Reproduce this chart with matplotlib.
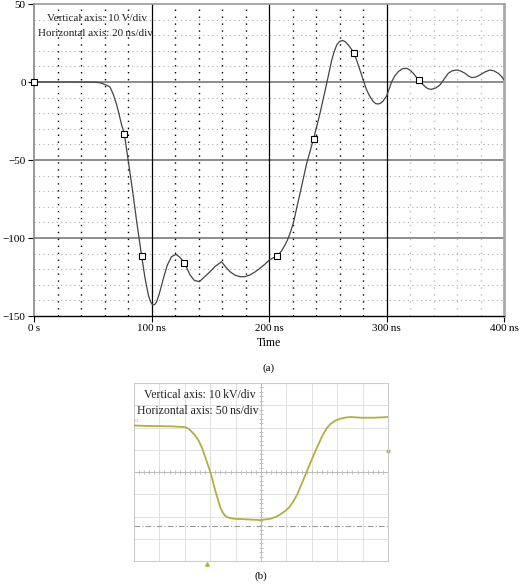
import numpy as np
import matplotlib
matplotlib.use("Agg")
import matplotlib.pyplot as plt

plt.rcParams['font.family'] = ['Liberation Serif', 'DejaVu Serif']

# ---------- Panel (a): simulated waveform ----------
time_ns = [0, 30, 50, 55, 58, 61, 64.7, 67.5, 70.4, 72.5, 74.6, 76.9, 80.3, 84, 87.4, 91.6,
           94.5, 97.3, 99, 101, 102.8, 104.4, 106.5, 108.7, 111, 113.5, 117, 120.9, 124,
           128, 130.5, 132.8, 136.5, 140.7, 145, 149.8, 154.5, 159.7, 163, 166.8, 171,
           175.3, 179.5, 183.8, 188, 192.3, 196.5, 200.3, 204, 207.1, 210.5, 213.6, 215.7,
           217.9, 220.7, 223.5, 226.4, 232.1, 238, 243.4, 249.1, 253.4, 255.5, 257.6, 260,
           262.7, 265, 267.5, 270, 272.3, 274.8, 277.4, 280.3, 283.1, 286, 288.8, 291, 293,
           295, 297, 300.2, 302, 304.4, 307, 310, 313.5, 317.2, 320, 322.8, 325, 327.7, 330,
           332.8, 335.5, 338.5, 342, 345.5, 349, 352.6, 356, 359.7, 363, 366.8, 369.5,
           372.5, 376, 379.6, 384, 388.1, 391.5, 395.1, 398, 400]
voltage = [0, 0, -0.1, -0.3, -0.9, -1.8, -3.2, -8, -14.7, -21, -27.6, -33.3, -51, -70.3,
           -89.5, -111.5, -125.8, -136.5, -140.5, -143, -142.6, -140.8, -136, -130, -123.5,
           -117.3, -112, -110.5, -112.3, -115.8, -120, -123.7, -127.2, -128, -125, -121.6,
           -118, -115.2, -118.5, -121.6, -123.8, -124.8, -124.8, -123.7, -121.8, -119.4,
           -116.8, -114.1, -112.6, -111.3, -108.5, -104.5, -101.3, -97, -90.6, -81, -71.4,
           -52.1, -36.3, -20.1, -0.9, 14.1, 19.5, 23.7, 26, 26.6, 25.8, 23.7, 21.2, 18.4,
           13.5, 7.7, 1, -5.1, -9.5, -12.6, -13.9, -14.1, -13.6, -12.3, -8.8, -5, 0.2, 3.8,
           6.6, 8.5, 8.8, 7.6, 5.6, 3.4, 1.3, -0.8, -3, -4.4, -4.7, -3.8, -1.9, 1.8, 5.6,
           7.2, 7.7, 7.1, 5.6, 4, 2.8, 3.2, 4.5, 6.5, 7.7, 7.1, 5.6, 3.5, 1.3]
marker_t = [0, 76.9, 91.6, 128, 207.1, 238, 272.3, 327.7]
marker_v = [0, -33.3, -111.5, -115.8, -111.3, -36.3, 18.4, 1.3]
xticks_a = [0, 100, 200, 300, 400]
xticklabels_a = ['0\u2009s', '100\u2009ns', '200\u2009ns', '300\u2009ns', '400\u2009ns']
yticks_a = [50, 0, -50, -100, -150]
yticklabels_a = ['50', '0', '\u221250', '\u2212100', '\u2212150']

# ---------- Panel (b): measured waveform ----------
time_b = [0, 25, 50, 75, 100.8, 107, 114, 120, 127, 134, 140.3, 150.2, 160, 170, 175, 180,
          187, 196, 222.7, 249, 268.8, 279, 288.5, 297, 305, 313, 321.5, 338, 354.5, 371,
          379, 387.4, 397, 407, 417, 427, 446.6, 473, 500]
volt_b = [20.9, 20.7, 20.6, 20.5, 20.2, 19.5, 18, 16.5, 14.2, 10.8, 6.6, 0.1, -8.4, -16,
          -18.3, -19.8, -20.6, -21, -21.3, -21.6, -21, -20.2, -19, -17.6, -16, -13.5, -10,
          -0.9, 8.1, 16.4, 19.6, 21.7, 23.2, 24, 24.5, 24.7, 24.4, 24.4, 24.7]
ref_level_b = -24.4
trig_level_b = 9.5
trig_time_b = 144

fig = plt.figure(figsize=(5.2, 5.85), dpi=100)

# ----- (a)
ax = fig.add_axes([34/520, 1-316/585, 470/520, 312/585])
ax.set_xlim(0, 400)
ax.set_ylim(-150, 50)

for yv in range(-140, 50, 10):
    if yv % 50 != 0:
        ax.axhline(yv, color='#aaaaaa', lw=0.8, ls=(0, (1, 3)), zorder=1)
for yv in (0, -50, -100):
    ax.axhline(yv, color='#8c8c8c', lw=1.4, zorder=1)
for xv in range(20, 400, 20):
    if xv % 100 == 0:
        ax.axvline(xv, color='black', lw=0.9, zorder=1)
    elif xv < 300:
        ax.axvline(xv, color='black', lw=1.0, ls=(0, (1, 4)), zorder=1)
    else:
        ax.axvline(xv, color='#bbbbbb', lw=1.0, ls=(0, (1, 4)), zorder=1)

ax.plot(time_ns, voltage, color='#444444', lw=0.9, zorder=3, solid_joinstyle='round')
ax.plot(marker_t, marker_v, ls='none', marker='s', ms=4.5, mfc='white', mec='black',
        mew=0.8, zorder=4, clip_on=False)

ax.set_xticks(xticks_a)
ax.set_xticklabels(xticklabels_a)
ax.set_yticks(yticks_a)
ax.set_yticklabels(yticklabels_a)
ax.tick_params(axis='both', labelsize=8, length=4, width=0.8, pad=2, direction='out')
ax.spines['left'].set_color('#888888')
ax.spines['left'].set_linewidth(1.2)
ax.spines['top'].set_color('#999999')
ax.spines['top'].set_linewidth(1.2)
ax.spines['right'].set_color('#aaaaaa')
ax.spines['right'].set_linewidth(2)
ax.spines['bottom'].set_color('black')
ax.spines['bottom'].set_linewidth(1.0)
ax.set_xlabel('Time', fontsize=8.5, labelpad=3)
ax.text(0.027, 0.955, 'Vertical axis: 10\u2009V/div', transform=ax.transAxes,
        fontsize=8, va='center', ha='left', color='#222222', zorder=5)
ax.text(0.008, 0.905, 'Horizontal axis: 20\u2009ns/div', transform=ax.transAxes,
        fontsize=8, va='center', ha='left', color='#222222', zorder=5)
fig.text(269/520, 1-368/585, '(a)', fontsize=8, ha='center', va='center')

# ----- (b)
bx = fig.add_axes([134/520, 1-561/585, 254/520, 178/585])
bx.set_xlim(0, 500)
bx.set_ylim(-40, 40)
for xv in range(50, 500, 50):
    bx.axvline(xv, color='#e0e0e0' if xv != 250 else '#bbbbbb', lw=0.7, zorder=1)
for yv in range(-30, 40, 10):
    bx.axhline(yv, color='#e0e0e0' if yv != 0 else '#bbbbbb', lw=0.7, zorder=1)
minor_x = np.arange(0, 501, 10)
minor_y = np.arange(-40, 41, 2)
bx.plot(minor_x, np.zeros_like(minor_x), ls='none', marker='|', ms=2.5, color='#bbbbbb', mew=0.6)
bx.plot(np.full_like(minor_y, 250), minor_y, ls='none', marker='_', ms=2.5, color='#bbbbbb', mew=0.6)
bx.axhline(ref_level_b, color='#999999', lw=0.8, ls=(0, (5, 2, 1, 2)), zorder=2)
bx.plot(time_b, volt_b, color='#b5ae3c', lw=1.3, zorder=3, solid_joinstyle='round')
bx.plot([500], [trig_level_b], ls='none', marker='o', ms=2, color='#b5ae3c', clip_on=False)
bx.plot([trig_time_b], [-41.5], ls='none', marker='^', ms=2.5, color='#b5ae3c', clip_on=False)
bx.text(2, volt_b[0] + 1.2, 'C1', fontsize=3, color='#999999', ha='left', va='bottom')
bx.set_xticks([])
bx.set_yticks([])
for s in bx.spines.values():
    s.set_color('#cccccc')
    s.set_linewidth(0.8)
bx.text(0.04, 0.93, 'Vertical axis: 10\u2009kV/div', transform=bx.transAxes,
        fontsize=8.5, va='center', ha='left', color='#222222', zorder=5)
bx.text(0.012, 0.845, 'Horizontal axis: 50\u2009ns/div', transform=bx.transAxes,
        fontsize=8.5, va='center', ha='left', color='#222222', zorder=5)
fig.text(261/520, 1-576/585, '(b)', fontsize=8, ha='center', va='center')

fig.savefig('out.png', dpi=100)
